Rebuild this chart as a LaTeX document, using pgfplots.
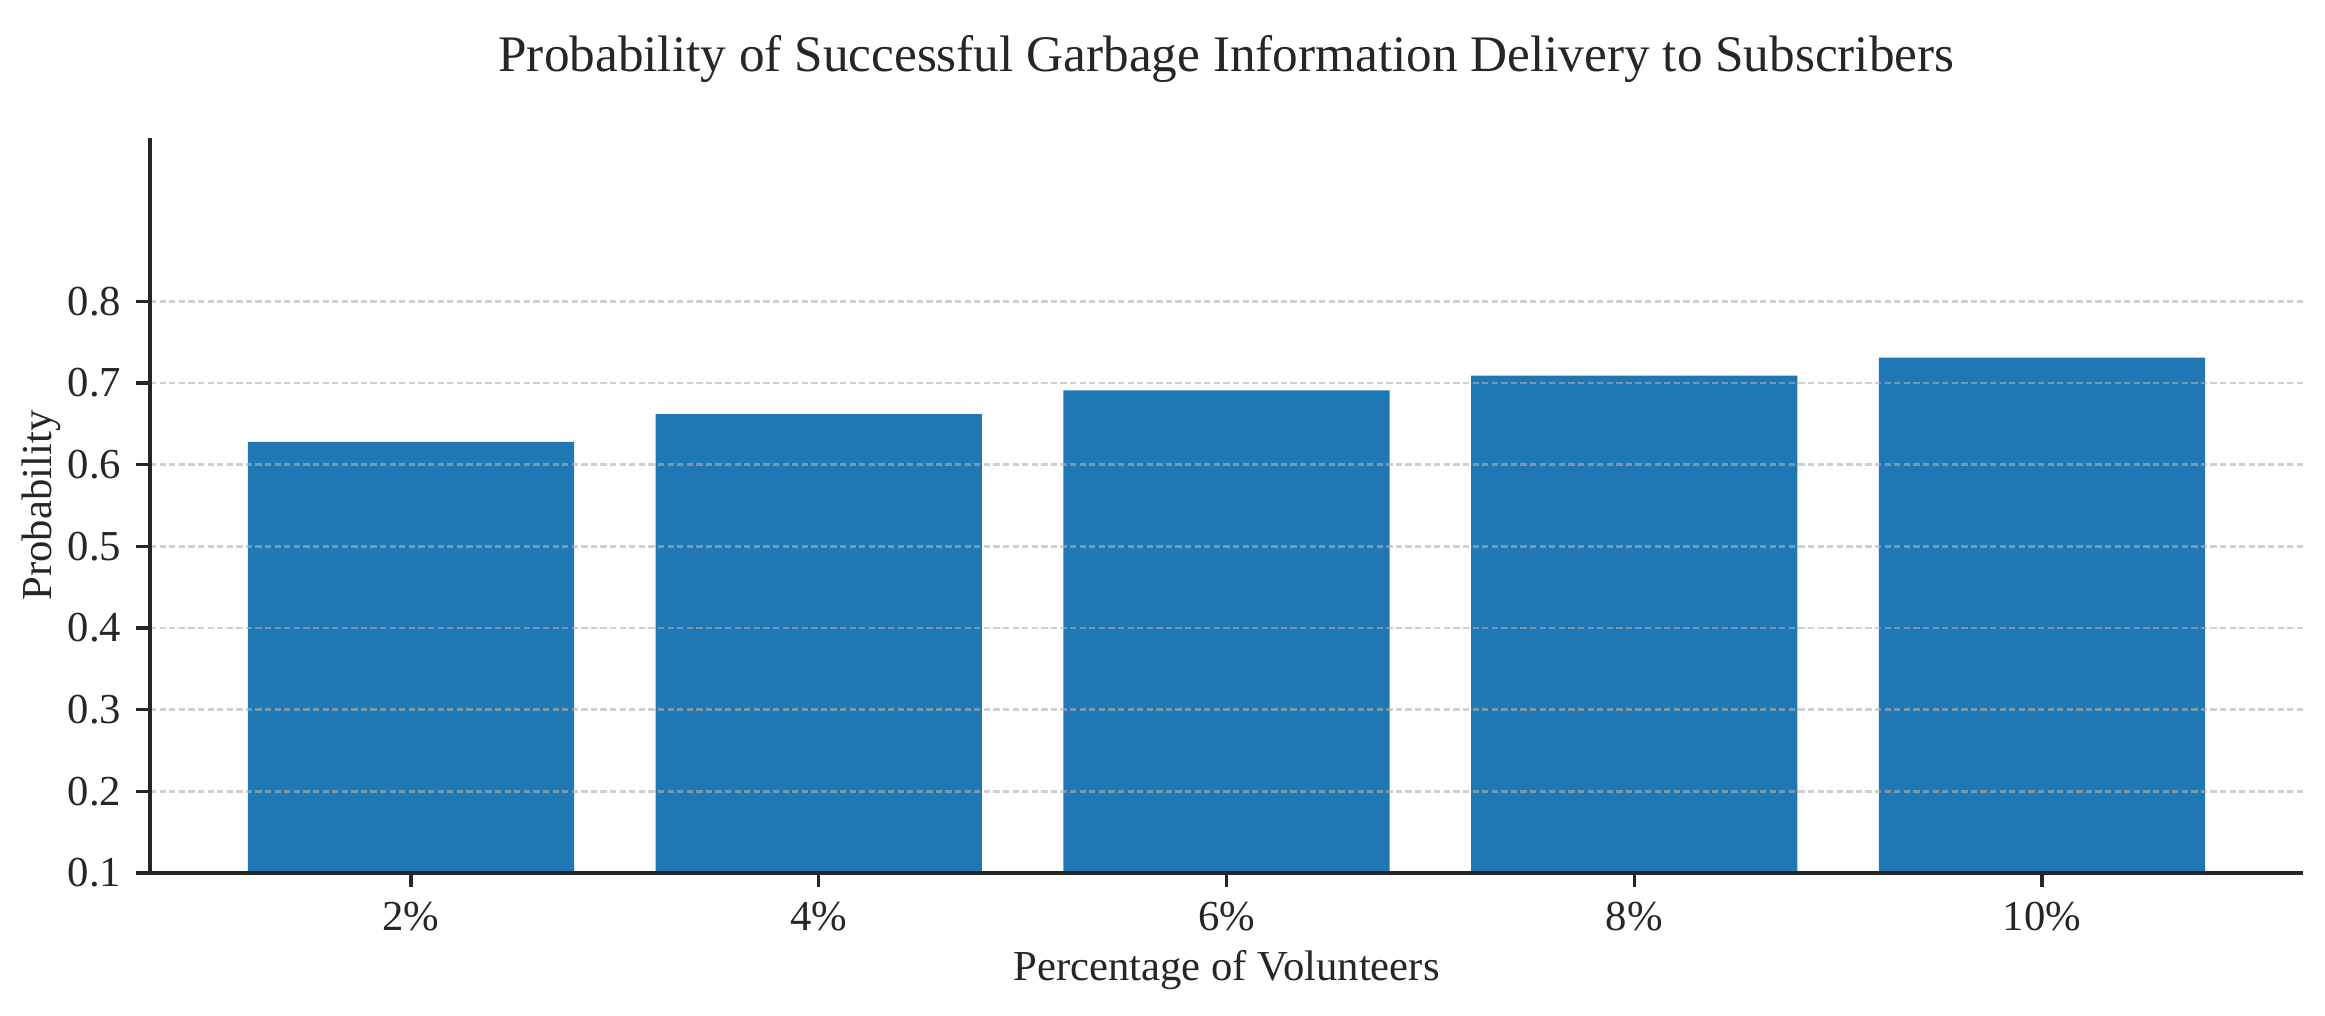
\documentclass[border=0pt]{standalone}
\usepackage{fontspec}
\setmainfont{Liberation Serif}
\usepackage{pgfplots}
\pgfplotsset{compat=1.18}
\definecolor{barblue}{HTML}{1F77B4}
\definecolor{gridc}{HTML}{B0B0B0}
\definecolor{axc}{HTML}{262626}
\begin{document}
\begin{tikzpicture}
\path[use as bounding box] (0,0) rectangle (558pt,243.84pt);
\begin{axis}[
  at={(36pt,34.32pt)}, anchor=south west,
  scale only axis, width=516.72pt, height=176.4pt,
  xmin=-0.64, xmax=4.64, ymin=0.1, ymax=1.0,
  axis x line*=bottom, axis y line*=left,
  axis line style={line width=0.8pt, color=axc},
  every tick/.style={line width=0.8pt, color=axc},
  tick align=outside, major tick length=3.36pt,
  xtick={0,1,2,3,4},
  xticklabels={2\%,4\%,6\%,8\%,10\%},
  ytick={0.1,0.2,0.3,0.4,0.5,0.6,0.7,0.8},
  yticklabel style={/pgf/number format/fixed, /pgf/number format/precision=1, /pgf/number format/fixed zerofill},
  /pgf/number format/assume math mode=true,
  tick label style={font=\fontsize{10.25}{12}\selectfont, color=axc},
  label style={font=\fontsize{10.25}{12}\selectfont, color=axc},
  xlabel={Percentage of Volunteers},
  ylabel={Probability},
  xlabel style={at={(axis description cs:0.5,0)}, anchor=base, yshift=-25.7pt},
  ylabel style={at={(axis description cs:0,0.5)}, anchor=center, yshift=26pt},
  title={Probability of Successful Garbage Information Delivery to Subscribers},
  title style={font=\fontsize{12.3}{14}\selectfont, color=axc, at={(axis description cs:0.5,1)}, anchor=base, yshift=10pt},
  ymajorgrids,
  grid style={gridc, opacity=0.6, line width=0.6pt, dash pattern=on 1.5pt off 0.8pt},
  axis on top,
  clip=false,
]
\addplot[ybar, bar width=0.8, fill=barblue, draw=none] coordinates {(0,0.628) (1,0.662) (2,0.691) (3,0.709) (4,0.731)};
\end{axis}
\end{tikzpicture}
\end{document}
